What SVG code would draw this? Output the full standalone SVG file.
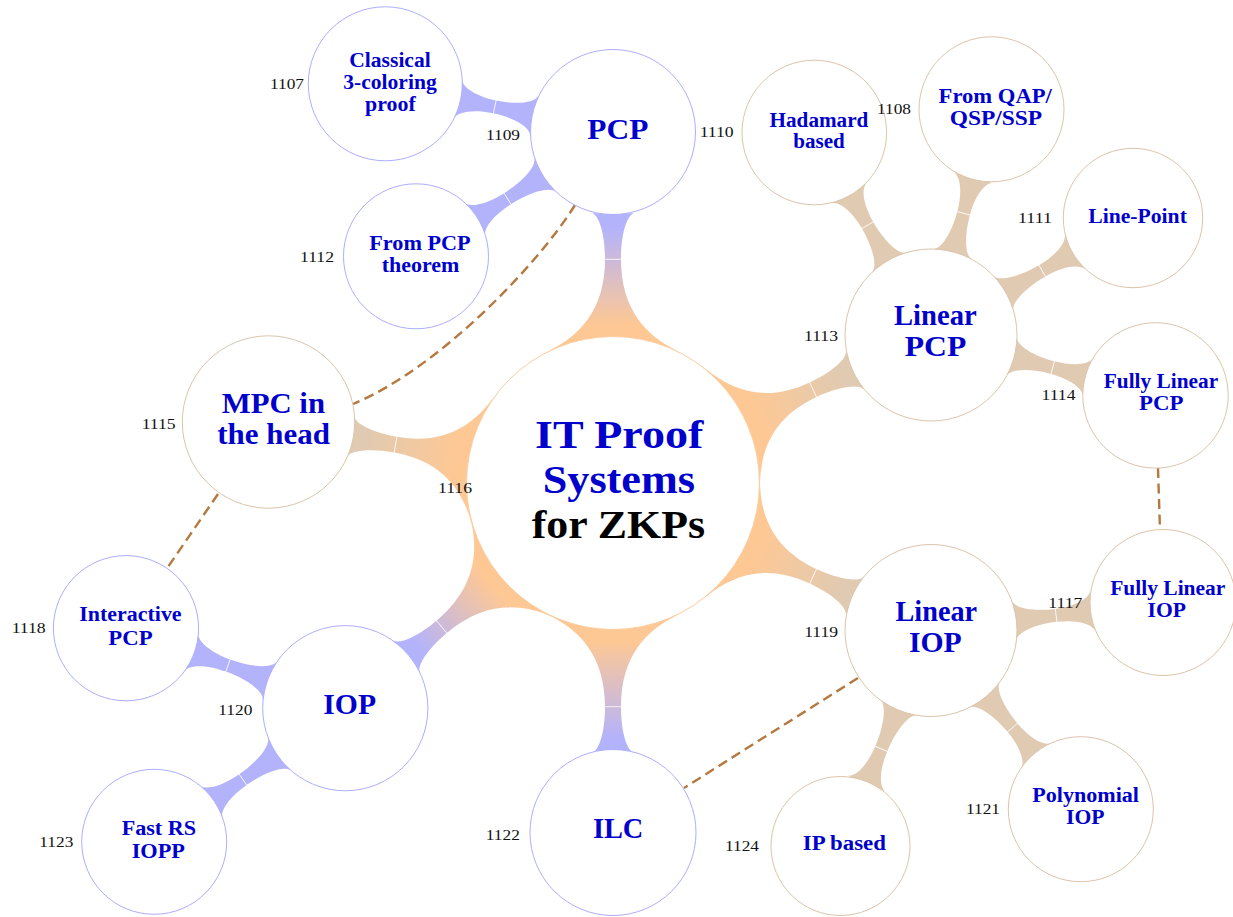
<svg xmlns="http://www.w3.org/2000/svg" width="1233" height="917" viewBox="0 0 1233 917">
<style>
.cb{fill:#fff;stroke:#adadff;stroke-width:1}
.ct{fill:#fff;stroke:#dcc4ab;stroke-width:1}
.cr{fill:#fff;stroke:#fdcc9c;stroke-width:1}
.t{font-family:"Liberation Serif","Times New Roman",serif;font-weight:bold;fill:#0000cc}
.t0{font-size:40px}
.t1{font-size:29px}
.t2{font-size:20px}
.k{fill:#000}
.lab{font-family:"Liberation Serif","Times New Roman",serif;font-size:15px;fill:#111}
.bb{fill:#b3b3fc}
.bt{fill:#e0cab2}
.seam{stroke:#fff;stroke-width:0.8;fill:none}
.dash{fill:none;stroke:#b5783f;stroke-width:2.4;stroke-dasharray:10 5.5}
</style>
<defs>
<linearGradient id="gOB" gradientUnits="userSpaceOnUse" x1="158" y1="0" x2="256" y2="0"><stop offset="0" stop-color="#fec894"/><stop offset="1" stop-color="#b3b3fc"/></linearGradient>
<linearGradient id="gOT" gradientUnits="userSpaceOnUse" x1="158" y1="0" x2="254" y2="0"><stop offset="0" stop-color="#fec894"/><stop offset="1" stop-color="#e0cab2"/></linearGradient>
</defs>
<rect width="1233" height="917" fill="#fff"/>
<g id="connectors">
<g transform="translate(613,483) rotate(-90)"><path fill="url(#gOB)" d="M132.3,-64C147.2,-33.2 173.4,-8 223.7,-8C249,-8 267.8,-13.9 269.7,-21L269.7,21C267.8,13.9 249,8 223.7,8C173.4,8 147.2,33.2 132.3,64Z"/><path class="seam" d="M223.7,-8.5V8.5"/></g>
<g transform="translate(613,483) rotate(90)"><path fill="url(#gOB)" d="M132.3,-64C147.2,-33.2 173.4,-8 223.7,-8C249,-8 267.8,-13.9 269.7,-21L269.7,21C267.8,13.9 249,8 223.7,8C173.4,8 147.2,33.2 132.3,64Z"/><path class="seam" d="M223.7,-8.5V8.5"/></g>
<g transform="translate(613,483) rotate(140)"><path fill="url(#gOB)" d="M132.3,-64C147.2,-33.2 173.4,-8 223.7,-8C249,-8 267.8,-13.9 269.7,-21L269.7,21C267.8,13.9 249,8 223.7,8C173.4,8 147.2,33.2 132.3,64Z"/><path class="seam" d="M223.7,-8.5V8.5"/></g>
<g transform="translate(613,483) rotate(-25)"><path fill="url(#gOT)" d="M132.3,-64C147.2,-33.2 172.1,-8 220.8,-8C246,-8 264.8,-13.9 266.6,-21L266.6,21C264.8,13.9 246,8 220.8,8C172.1,8 147.2,33.2 132.3,64Z"/><path class="seam" d="M220.8,-8.5V8.5"/></g>
<g transform="translate(613,483) rotate(25)"><path fill="url(#gOT)" d="M132.3,-64C147.2,-33.2 172.1,-8 220.8,-8C246,-8 264.8,-13.9 266.6,-21L266.6,21C264.8,13.9 246,8 220.8,8C172.1,8 147.2,33.2 132.3,64Z"/><path class="seam" d="M220.8,-8.5V8.5"/></g>
<g transform="translate(613,483) rotate(-170)"><path fill="url(#gOT)" d="M132.3,-64C147.2,-33.2 172.1,-8 220.8,-8C246,-8 264.8,-13.9 266.6,-21L266.6,21C264.8,13.9 246,8 220.8,8C172.1,8 147.2,33.2 132.3,64Z"/><path class="seam" d="M220.8,-8.5V8.5"/></g>
<g transform="translate(613,132) rotate(-168)"><path class="bb" d="M80.6,-20C82.4,-12.6 98.7,-6.5 120.9,-6.5C141.7,-6.5 156.6,-12.6 158.6,-20L158.6,20C156.6,12.6 141.7,6.5 120.9,6.5C98.7,6.5 82.4,12.6 80.6,20Z"/><path class="seam" d="M120.9,-7V7"/></g>
<g transform="translate(613,132) rotate(147.7)"><path class="bb" d="M80.6,-20C82.4,-12.6 100.5,-6.5 124.8,-6.5C146.3,-6.5 161.7,-12.6 163.8,-20L163.8,20C161.7,12.6 146.3,6.5 124.8,6.5C100.5,6.5 82.4,12.6 80.6,20Z"/><path class="seam" d="M124.8,-7V7"/></g>
<g transform="translate(931,335) rotate(-120)"><path class="bt" d="M83.6,-20C85.4,-12.6 103.1,-6.5 126.8,-6.5C147.2,-6.5 161.7,-12.6 163.8,-20L163.8,20C161.7,12.6 147.2,6.5 126.8,6.5C103.1,6.5 85.4,12.6 83.6,20Z"/><path class="seam" d="M126.8,-7V7"/></g>
<g transform="translate(931,335) rotate(-75)"><path class="bt" d="M83.6,-20C85.4,-12.6 102.7,-6.5 126,-6.5C146.2,-6.5 160.7,-12.6 162.8,-20L162.8,20C160.7,12.6 146.2,6.5 126,6.5C102.7,6.5 85.4,12.6 83.6,20Z"/><path class="seam" d="M126,-7V7"/></g>
<g transform="translate(931,335) rotate(-30)"><path class="bt" d="M83.6,-20C85.4,-12.6 104,-6.5 128.4,-6.5C149,-6.5 163.7,-12.6 165.9,-20L165.9,20C163.7,12.6 149,6.5 128.4,6.5C104,6.5 85.4,12.6 83.6,20Z"/><path class="seam" d="M128.4,-7V7"/></g>
<g transform="translate(931,335) rotate(15)"><path class="bt" d="M83.6,-20C85.4,-12.6 102.7,-6.5 126,-6.5C146.2,-6.5 160.7,-12.6 162.8,-20L162.8,20C160.7,12.6 146.2,6.5 126,6.5C102.7,6.5 85.4,12.6 83.6,20Z"/><path class="seam" d="M126,-7V7"/></g>
<g transform="translate(931,630.5) rotate(-6.9)"><path class="bt" d="M83.6,-20C85.4,-12.6 102.7,-6.5 126,-6.5C146.2,-6.5 160.7,-12.6 162.8,-20L162.8,20C160.7,12.6 146.2,6.5 126,6.5C102.7,6.5 85.4,12.6 83.6,20Z"/><path class="seam" d="M126,-7V7"/></g>
<g transform="translate(931,630.5) rotate(50)"><path class="bt" d="M83.6,-20C85.4,-12.6 103.1,-6.5 126.8,-6.5C147.2,-6.5 161.7,-12.6 163.8,-20L163.8,20C161.7,12.6 147.2,6.5 126.8,6.5C103.1,6.5 85.4,12.6 83.6,20Z"/><path class="seam" d="M126.8,-7V7"/></g>
<g transform="translate(931,630.5) rotate(112.8)"><path class="bt" d="M83.6,-20C85.4,-12.6 104,-6.5 128.4,-6.5C149,-6.5 163.7,-12.6 165.9,-20L165.9,20C163.7,12.6 149,6.5 128.4,6.5C104,6.5 85.4,12.6 83.6,20Z"/><path class="seam" d="M128.4,-7V7"/></g>
<g transform="translate(345.3,708.2) rotate(-160)"><path class="bb" d="M80.6,-20C82.4,-12.6 100.5,-6.5 124.8,-6.5C146.3,-6.5 161.7,-12.6 163.8,-20L163.8,20C161.7,12.6 146.3,6.5 124.8,6.5C100.5,6.5 82.4,12.6 80.6,20Z"/><path class="seam" d="M124.8,-7V7"/></g>
<g transform="translate(345.3,708.2) rotate(145.1)"><path class="bb" d="M80.6,-20C82.4,-12.6 100.5,-6.5 124.8,-6.5C146.3,-6.5 161.7,-12.6 163.8,-20L163.8,20C161.7,12.6 146.3,6.5 124.8,6.5C100.5,6.5 82.4,12.6 80.6,20Z"/><path class="seam" d="M124.8,-7V7"/></g>
<path class="dash" d="M575,205C540,262 440,368 353,404"/>
<path class="dash" d="M218,494L168,567"/>
<path class="dash" d="M1158,468L1160,530"/>
<path class="dash" d="M858,678L684,788"/>
</g>
<g id="root">
<circle class="cr" cx="613" cy="483" r="146.5"/>
<text class="t t0" x="535" y="448.3" textLength="168.3" lengthAdjust="spacingAndGlyphs">IT Proof</text>
<text class="t t0" x="542.7" y="493.3" textLength="152.3" lengthAdjust="spacingAndGlyphs">Systems</text>
<text class="t t0 k" x="531.7" y="538.3" textLength="173.3" lengthAdjust="spacingAndGlyphs">for ZKPs</text>
<text class="lab" x="438" y="493" textLength="34" lengthAdjust="spacingAndGlyphs">1116</text>
</g>
<g id="pcp">
<circle class="cb" cx="613" cy="132" r="82.5"/>
<text class="t t1" x="587.3" y="139.3" textLength="61" lengthAdjust="spacingAndGlyphs">PCP</text>
<text class="lab" x="486" y="139.7" textLength="34" lengthAdjust="spacingAndGlyphs">1109</text>
</g>
<g id="linear-pcp">
<circle class="ct" cx="931" cy="335" r="86"/>
<text class="t t1" x="894" y="325" textLength="82.7" lengthAdjust="spacingAndGlyphs">Linear</text>
<text class="t t1" x="904.7" y="356" textLength="61.6" lengthAdjust="spacingAndGlyphs">PCP</text>
<text class="lab" x="804" y="340.8" textLength="34" lengthAdjust="spacingAndGlyphs">1113</text>
</g>
<g id="linear-iop">
<circle class="ct" cx="931" cy="630.5" r="86"/>
<text class="t t1" x="895.5" y="620.5" textLength="81.6" lengthAdjust="spacingAndGlyphs">Linear</text>
<text class="t t1" x="908.9" y="651.7" textLength="52.8" lengthAdjust="spacingAndGlyphs">IOP</text>
<text class="lab" x="804.2" y="637.3" textLength="34" lengthAdjust="spacingAndGlyphs">1119</text>
</g>
<g id="ilc">
<circle class="cb" cx="613" cy="832.5" r="83"/>
<text class="t t1" x="592.9" y="838.3" textLength="50.4" lengthAdjust="spacingAndGlyphs">ILC</text>
<text class="lab" x="485.8" y="840" textLength="34" lengthAdjust="spacingAndGlyphs">1122</text>
</g>
<g id="iop">
<circle class="cb" cx="345.3" cy="708.2" r="82.6"/>
<text class="t t1" x="323.3" y="713.7" textLength="52.7" lengthAdjust="spacingAndGlyphs">IOP</text>
<text class="lab" x="218.3" y="715" textLength="34" lengthAdjust="spacingAndGlyphs">1120</text>
</g>
<g id="mpc">
<circle class="ct" cx="268.5" cy="422" r="86.2"/>
<text class="t t1" x="221.7" y="413.1" textLength="103.3" lengthAdjust="spacingAndGlyphs">MPC in</text>
<text class="t t1" x="217.3" y="444.2" textLength="112.7" lengthAdjust="spacingAndGlyphs">the head</text>
<text class="lab" x="141.7" y="428.6" textLength="34" lengthAdjust="spacingAndGlyphs">1115</text>
</g>
<g id="classical">
<circle class="cb" cx="385.3" cy="83.8" r="77"/>
<text class="t t2" x="349.3" y="66.7" textLength="81.4" lengthAdjust="spacingAndGlyphs">Classical</text>
<text class="t t2" x="343.3" y="89.3" textLength="93.4" lengthAdjust="spacingAndGlyphs">3-coloring</text>
<text class="t t2" x="365" y="111" textLength="50.7" lengthAdjust="spacingAndGlyphs">proof</text>
<text class="lab" x="270" y="89" textLength="34" lengthAdjust="spacingAndGlyphs">1107</text>
</g>
<g id="from-pcp-theorem">
<circle class="cb" cx="416" cy="256.3" r="72.5"/>
<text class="t t2" x="369.3" y="250" textLength="101.3" lengthAdjust="spacingAndGlyphs">From PCP</text>
<text class="t t2" x="381.7" y="271.7" textLength="77.7" lengthAdjust="spacingAndGlyphs">theorem</text>
<text class="lab" x="300" y="261.7" textLength="34" lengthAdjust="spacingAndGlyphs">1112</text>
</g>
<g id="hadamard">
<circle class="ct" cx="814.3" cy="132.5" r="72.3"/>
<text class="t t2" x="769.6" y="126.7" textLength="98.7" lengthAdjust="spacingAndGlyphs">Hadamard</text>
<text class="t t2" x="793.2" y="148.3" textLength="51.6" lengthAdjust="spacingAndGlyphs">based</text>
<text class="lab" x="699.7" y="136.7" textLength="34" lengthAdjust="spacingAndGlyphs">1110</text>
</g>
<g id="from-qap">
<circle class="ct" cx="991.5" cy="109.3" r="72.5"/>
<text class="t t2" x="938.6" y="103.3" textLength="113.2" lengthAdjust="spacingAndGlyphs">From QAP/</text>
<text class="t t2" x="949.7" y="125" textLength="92.4" lengthAdjust="spacingAndGlyphs">QSP/SSP</text>
<text class="lab" x="877" y="114" textLength="34" lengthAdjust="spacingAndGlyphs">1108</text>
</g>
<g id="line-point">
<circle class="ct" cx="1133" cy="218" r="69.7"/>
<text class="t t2" x="1088.2" y="222.7" textLength="98.7" lengthAdjust="spacingAndGlyphs">Line-Point</text>
<text class="lab" x="1018" y="223" textLength="34" lengthAdjust="spacingAndGlyphs">1111</text>
</g>
<g id="fully-linear-pcp">
<circle class="ct" cx="1155.5" cy="395.4" r="72.7"/>
<text class="t t2" x="1103.8" y="388.3" textLength="114.3" lengthAdjust="spacingAndGlyphs">Fully Linear</text>
<text class="t t2" x="1139" y="410" textLength="44.4" lengthAdjust="spacingAndGlyphs">PCP</text>
<text class="lab" x="1041.5" y="400.3" textLength="34" lengthAdjust="spacingAndGlyphs">1114</text>
</g>
<g id="fully-linear-iop">
<circle class="ct" cx="1163" cy="602.5" r="73"/>
<text class="t t2" x="1110.2" y="595" textLength="115.2" lengthAdjust="spacingAndGlyphs">Fully Linear</text>
<text class="t t2" x="1147.6" y="616.7" textLength="38.4" lengthAdjust="spacingAndGlyphs">IOP</text>
<text class="lab" x="1048.3" y="607.5" textLength="34" lengthAdjust="spacingAndGlyphs">1117</text>
</g>
<g id="polynomial-iop">
<circle class="ct" cx="1080.8" cy="809.2" r="72.5"/>
<text class="t t2" x="1032.3" y="801.7" textLength="106.7" lengthAdjust="spacingAndGlyphs">Polynomial</text>
<text class="t t2" x="1066" y="824" textLength="38.4" lengthAdjust="spacingAndGlyphs">IOP</text>
<text class="lab" x="966" y="814" textLength="34" lengthAdjust="spacingAndGlyphs">1121</text>
</g>
<g id="ip-based">
<circle class="ct" cx="840.5" cy="846" r="69.5"/>
<text class="t t2" x="802.8" y="850" textLength="83.1" lengthAdjust="spacingAndGlyphs">IP based</text>
<text class="lab" x="725" y="851" textLength="34" lengthAdjust="spacingAndGlyphs">1124</text>
</g>
<g id="interactive-pcp">
<circle class="cb" cx="126" cy="628.2" r="72.6"/>
<text class="t t2" x="79.3" y="621.3" textLength="102.3" lengthAdjust="spacingAndGlyphs">Interactive</text>
<text class="t t2" x="108.3" y="644.5" textLength="44.3" lengthAdjust="spacingAndGlyphs">PCP</text>
<text class="lab" x="11.7" y="633.4" textLength="34" lengthAdjust="spacingAndGlyphs">1118</text>
</g>
<g id="fast-rs-iopp">
<circle class="cb" cx="154.2" cy="841.8" r="72.5"/>
<text class="t t2" x="121.7" y="835.4" textLength="74.3" lengthAdjust="spacingAndGlyphs">Fast RS</text>
<text class="t t2" x="131.7" y="857.9" textLength="53.3" lengthAdjust="spacingAndGlyphs">IOPP</text>
<text class="lab" x="39.3" y="847" textLength="34" lengthAdjust="spacingAndGlyphs">1123</text>
</g>
</svg>
